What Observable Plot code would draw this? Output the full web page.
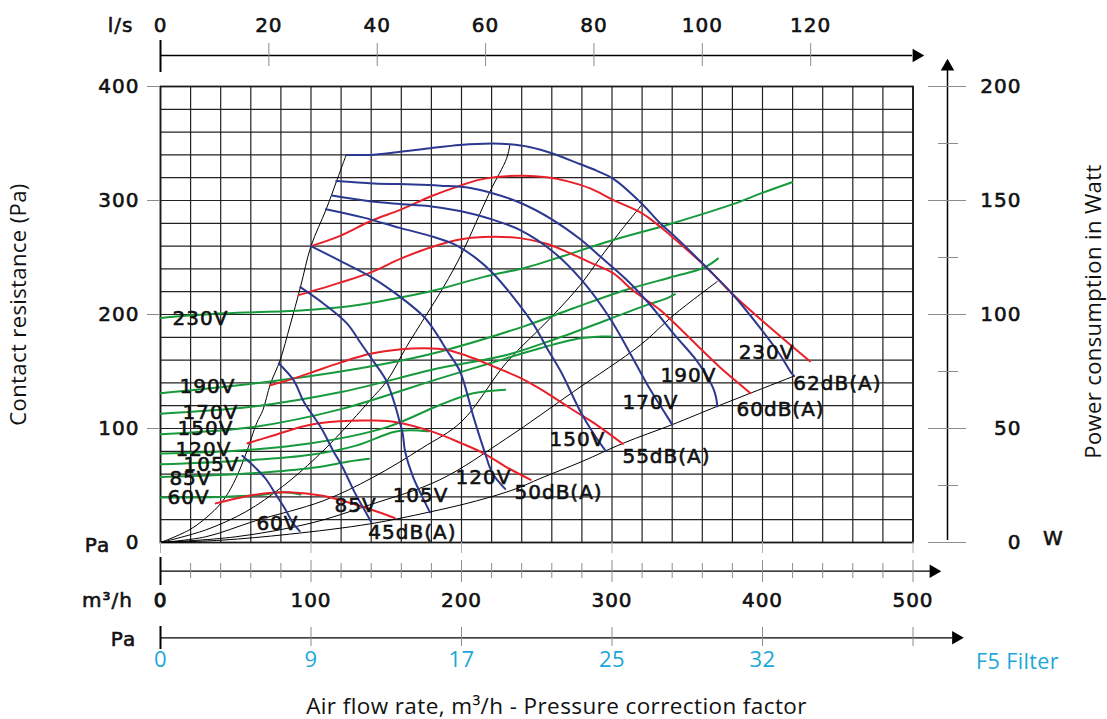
<!DOCTYPE html>
<html><head><meta charset="utf-8">
<script src="https://cdn.jsdelivr.net/npm/d3@7"></script>
<script src="https://cdn.jsdelivr.net/npm/@observablehq/plot@0.6"></script>
<style>
body{margin:0;background:#fff;}
</style></head><body><div id="chart"></div>
<script>
// ---------------- DATA (x = air flow m³/h, y = pressure Pa; power curves in Pa-equivalent = 2·W) -------------
const blue230 = [[123.4,340],[139,340],[157,342.3],[179,345.8],[199,348.7],[220,350],[232,349.3],[245,347],[260,341.5],[278.6,332],[290,326],[301,319],[320,297],[332,280],[343,267],[363,241],[380,218],[398,189],[411,166],[419,149],[421,146]];
const blue190 = [[116.8,317],[141.5,315],[168,314],[186,313],[203,311.6],[220,306.6],[239,298],[260,283.5],[279,266],[292,251],[310,230],[325,209],[341,183],[356,160],[363,146],[367,136],[369,128],[370,119.5]];
const blue170 = [[113.9,304.3],[139,299.4],[159,297],[179,295],[199,290.7],[220,283.5],[239,274],[260,256],[280,230],[298,198],[312,166],[325,135],[334,116],[340,103.4]];
const blue150 = [[109.9,292.4],[135,285],[159,276],[179,269],[195,261.7],[210,249],[221,236],[234,216],[248,191],[257,170],[266,150],[279,115],[288,95],[296,80]];
const blue120 = [[100,260],[119.4,247],[139.8,233],[159.7,215],[175,198],[183.5,183],[190,169],[199,150],[208,110],[215.5,79],[220.5,61],[229,47]];
const blue105 = [[92.9,224],[108.4,209.5],[124,192],[133,175],[142,158],[150,142],[155,124],[158.5,108],[161,95],[162.5,80],[168,57],[174,40],[179,26.5]];
const blue85  = [[78.6,157],[88.6,142],[95,124],[107,100],[114.5,81],[121,66],[129,44],[134.5,31],[140,18]];
const blue60  = [[54.4,76],[63.5,65],[70,55.7],[76.7,42],[83,29],[88,17],[92.5,10]];

const red62 = [[100,260],[119.4,269],[139.8,282],[159.7,292],[179.8,303.7],[199.7,313.3],[212.3,318.3],[223.3,320.6],[241,321.7],[256.5,320.3],[270,317],[285.5,310.6],[301,300.4],[320,288.8],[332,277],[341,267],[363,241],[380,218],[406,187.5],[431.5,159]];
const red60 = [[91.8,217],[119.4,228],[139.8,237],[159.7,249],[179.8,259],[199.7,266],[214.5,268],[238.8,267],[256.5,262],[270,255],[285,246],[301,236],[314,221],[332,204],[345,188],[358,171],[371.5,154],[384.7,139],[392,131]];
const red55 = [[73,138],[84,142],[100,149],[120,158],[139.5,165.5],[160,169.5],[175,170.4],[190,169],[208,161.6],[222,154],[238,145],[252,135],[272,118],[290,103],[307.3,86.4]];
const red50 = [[57.8,87],[74.4,93.7],[96.7,102.5],[118.9,106.3],[141,107],[156.7,105.5],[181,97],[200,87],[215,78],[230,66],[246,55]];
const red45 = [[36.7,34.3],[58.9,41],[72,43.5],[85.6,44],[107.8,41],[121,36.7],[139,29.4],[155.6,21.5]];

const green230 = [[0,197],[42,201],[93,203.5],[124,207],[159.5,215],[181.6,221],[214.8,233],[243.6,241.5],[265.7,250.5],[298.7,264.5],[338.7,279.4],[380.8,297],[398.5,306],[419.6,316]];
const green190 = [[0,131],[49,137.5],[100,146],[150,157],[185.6,167.4],[241,189.4],[274.4,205.5],[309,221.5],[341,233.3],[361,241],[370.4,249]];
const green170 = [[0,113],[60,119],[120,132],[185.6,153],[230,164.5],[263.3,179],[296.7,195.2],[323.3,208.4],[336.7,214.3],[341.8,217.8]];
const green150 = [[0,95],[60,101],[120,117],[185.6,144],[218.9,157.2],[252.2,170.4],[278.9,179.1],[292.2,180.6],[300,180.6]];
const green120 = [[0,78],[50,80.5],[100,87],[150,101],[185.6,120.6],[207.8,130.9],[229,134]];
const green105 = [[0,68.6],[50,71.5],[100,77],[130,85],[155,97],[166,98.5],[178,97.5]];
const green85  = [[0,57.5],[35,59],[71,61.7],[104,66],[125,71],[138.5,73.4]];
const green60  = [[0,39.5],[40,40],[65,41.5],[82,44],[93,42]];

const sysBoundary = [[0,0],[20,11.7],[35.6,28],[43.3,40],[50,56],[56.7,77.6],[64,105],[68,116],[73,139],[79.5,160],[86,190],[93,224],[100,260],[110,292],[117,317],[123.4,340]];
const sysC1 = [[0,0],[30,11],[56.7,27],[81,49],[103,74],[121,98],[139,124.4],[150.6,142],[163.6,172],[188,224],[200,253],[219,308],[230,337],[232.2,349.3]];
const sysC2 = [[0,0],[30,5],[63,19],[108,36.5],[141,57],[174,83],[200,106],[230,158],[259,196.7],[279,226],[292,249.4],[305.5,272.8],[320,296.6]];
const sysC3 = [[0,0],[50,5],[100,17],[139,33],[185.6,55],[230,91.4],[274.4,132.3],[318.9,173.3],[341.1,199.6],[370,229]];
const sysDB = [[0,0],[40,2],[85.6,7.3],[139,16.3],[178,26.5],[210,36.5],[236,47],[252,56],[280,71],[307.8,87.3],[340,103.4],[370,119.5],[421,146]];

const voltages = ["230V","190V","170V","150V","120V","105V","85V","60V"];
const dbLevels = ["62dB(A)","60dB(A)","55dB(A)","50dB(A)","45dB(A)"];
// label anchor points (data units)
const greenLabelPos = [[26.6,196.5],[31.2,136.8],[33.2,114],[29.9,100],[28.6,81.6],[33.9,68.4],[19.9,56.1],[18.6,39.5]];
const blueLabelPos  = [[402.7,166.7],[350.8,146.5],[325.6,122.8],[277.1,90.4],[214.6,57],[172.8,41.2],[129.6,32.5],[77.7,16.7]];
const dbLabelPos    = [[449.8,139.5],[412,116.7],[336.2,75.4],[264.5,43.9],[167.4,8.8]];

// axes values
const lsTicks = [0,20,40,60,80,100,120];
const LS_TO_M3H = 3.6;
const m3hMajor = [0,100,200,300,400,500];
const m3hMinor = [20,40,60,80,120,140,160,180,220,240,260,280,320,340,360,380,420,440,460,480];
const paTicks = [0,100,200,300,400];
const wattMajor = [0,50,100,150,200];
const wattMinor = [25,75,125,175];
const WATT_TO_PA = 2;
const filterLabels = ["0","9","17","25","32"];
const gridX = [0,20,40,60,80,100,120,140,160,180,200,220,240,260,280,300,320,340,360,380,400,420,440,460,480,500];
const gridY = [0,20,40,60,80,100,120,140,160,180,200,220,240,260,280,300,320,340,360,380,400];

// ---------------- LAYOUT ----------------
const W = 1107, H = 719, ML = 160, MR = 194.5, MT = 86, MB = 177;
const kx = 500 / (W - ML - MR), ky = 400 / (H - MT - MB);
const X = px => (px - ML) * kx;          // pixel -> data helpers for decorations
const Y = py => (H - MB - py) * ky;

const BLUE = "#2b3990", RED = "#e8202a", GREEN = "#179a3c", GREY = "#8c8c8c", CYAN = "#1ba7d8";
const LBL = "DejaVu Sans", TTL = "Open Sans";

const toRows = (groups) => groups.flatMap(([id, pts]) => pts.map(([x, y]) => ({id, x, y})));
const blueRows = toRows([["230",blue230],["190",blue190],["170",blue170],["150",blue150],["120",blue120],["105",blue105],["85",blue85],["60",blue60]]);
const redRows = toRows([["62",red62],["60",red60],["55",red55],["50",red50],["45",red45]]);
const greenRows = toRows([["230",green230],["190",green190],["170",green170],["150",green150],["120",green120],["105",green105],["85",green85],["60",green60]]);
const blackRows = toRows([["b",sysBoundary],["c1",sysC1],["c2",sysC2],["c3",sysC3],["db",sysDB]]);

const labelRows = (names, pos) => names.map((t, i) => ({t, x: pos[i][0], y: pos[i][1]}));
const txt = (o) => ({fontFamily: LBL, fontSize: 20, fill: "#111", stroke: "#111", strokeWidth: 0.6, ...o});
const ttl = (o) => ({fontFamily: TTL, fontSize: 22, fill: "#111", ...o});

const chart = Plot.plot({
  width: W, height: H,
  marginLeft: ML, marginRight: MR, marginTop: MT, marginBottom: MB,
  x: {domain: [0, 500], axis: null},
  y: {domain: [0, 400], axis: null},
  style: {background: "#fff", overflow: "visible"},
  marks: [
    Plot.gridX(gridX, {stroke: "#222", strokeOpacity: 1, strokeWidth: 1.2}),
    Plot.gridY(gridY, {stroke: "#222", strokeOpacity: 1, strokeWidth: 1.2}),
    Plot.frame({stroke: "#1a1a1a", strokeWidth: 1.8}),

    // black system curves
    Plot.line(blackRows, {x: "x", y: "y", z: "id", stroke: "#000", strokeWidth: 1, curve: "catmull-rom"}),
    // green power curves
    Plot.line(greenRows, {x: "x", y: "y", z: "id", stroke: GREEN, strokeWidth: 2, curve: "catmull-rom"}),
    // red noise curves
    Plot.line(redRows, {x: "x", y: "y", z: "id", stroke: RED, strokeWidth: 2, curve: "catmull-rom"}),
    // blue fan curves
    Plot.line(blueRows, {x: "x", y: "y", z: "id", stroke: BLUE, strokeWidth: 2, curve: "catmull-rom"}),

    // curve labels
    Plot.text(labelRows(voltages, greenLabelPos), txt({x: "x", y: "y", text: "t"})),
    Plot.text(labelRows(voltages, blueLabelPos), txt({x: "x", y: "y", text: "t"})),
    Plot.text(labelRows(dbLevels, dbLabelPos), txt({x: "x", y: "y", text: "t"})),

    // ---- top l/s axis
    Plot.ruleY([Y(55)], {x1: X(161), x2: X(912), stroke: "#000", strokeWidth: 1.3}),
    Plot.dot([0], {x: X(916), y: Y(55), symbol: "triangle", rotate: 90, r: 5, fill: "#000", stroke: null}),
    Plot.ruleX(lsTicks.slice(1), {x: d => d * LS_TO_M3H, y1: Y(66), y2: Y(43), stroke: GREY}),
    Plot.ruleX([0], {x: 0, y1: Y(72), y2: Y(40), stroke: "#000", strokeWidth: 2}),
    Plot.text(lsTicks, txt({x: d => d * LS_TO_M3H, y: Y(25), text: d => String(d)})),
    Plot.text(["l/s"], txt({x: X(120), y: Y(25), text: d => d})),

    // ---- left Pa axis
    Plot.ruleY(paTicks.slice(1), {y: d => d, x1: X(147), x2: 0, stroke: GREY}),
    Plot.text(paTicks, txt({x: X(139), y: d => d, text: d => String(d), textAnchor: "end"})),
    Plot.text(["Pa"], txt({x: X(97), y: Y(545), text: d => d})),
    Plot.text(["Contact resistance (Pa)"], ttl({x: X(18), y: Y(304), text: d => d, rotate: -90})),

    // ---- right W axis
    Plot.ruleX([X(947)], {y1: Y(540), y2: Y(68), stroke: "#000", strokeWidth: 1.5}),
    Plot.dot([0], {x: X(947), y: Y(66), symbol: "triangle", r: 5, fill: "#000", stroke: null}),
    Plot.ruleY(wattMajor, {y: d => d * WATT_TO_PA, x1: X(928), x2: X(966), stroke: GREY}),
    Plot.ruleY(wattMinor, {y: d => d * WATT_TO_PA, x1: X(938), x2: X(958), stroke: GREY}),
    Plot.text(wattMajor, txt({x: X(1021), y: d => d * WATT_TO_PA, text: d => String(d), textAnchor: "end"})),
    Plot.text(["W"], txt({x: X(1053), y: Y(538), text: d => d})),
    Plot.text(["Power consumption in Watt"], ttl({x: X(1093), y: Y(311), text: d => d, rotate: -90})),

    // ---- bottom m³/h axis
    Plot.ruleX(m3hMajor, {x: d => d, y1: Y(553), y2: 0, stroke: "#b0b0b0"}),
    Plot.ruleY([Y(570.7)], {x1: X(161), x2: X(930), stroke: "#000", strokeWidth: 1.3}),
    Plot.dot([0], {x: X(933), y: Y(570.7), symbol: "triangle", rotate: 90, r: 5, fill: "#000", stroke: null}),
    Plot.ruleX(m3hMinor, {x: d => d, y1: Y(578), y2: Y(563), stroke: GREY}),
    Plot.ruleX(m3hMajor.slice(1), {x: d => d, y1: Y(582), y2: Y(560), stroke: GREY}),
    Plot.ruleX([0], {x: 0, y1: Y(585), y2: Y(557), stroke: "#000", strokeWidth: 2}),
    Plot.text(m3hMajor, txt({x: d => d, y: Y(600), text: d => String(d), strokeWidth: d => d === 0 ? 1.0 : 0.6})),
    Plot.text(["m³/h"], txt({x: X(107), y: Y(600), text: d => d})),

    // ---- F5 filter pressure correction axis
    Plot.ruleY([Y(637.3)], {x1: X(160), x2: X(952), stroke: "#000", strokeWidth: 1.3}),
    Plot.dot([0], {x: X(955.5), y: Y(637.3), symbol: "triangle", rotate: 90, r: 5, fill: "#000", stroke: null}),
    Plot.ruleX(m3hMajor.slice(1), {x: d => d, y1: Y(646), y2: Y(627), stroke: GREY}),
    Plot.ruleX([0], {x: 0, y1: Y(649), y2: Y(626), stroke: "#000", strokeWidth: 2}),
    Plot.text(filterLabels, ttl({x: (d, i) => m3hMajor[i], y: Y(659), text: d => d, fill: CYAN})),
    Plot.text(["Pa"], txt({x: X(123), y: Y(639), text: d => d})),
    Plot.text(["F5 Filter"], ttl({x: X(1017), y: Y(662), text: d => d, fill: CYAN, fontSize: 21.5})),

    // ---- title
    Plot.text(["Air flow rate, m³/h - Pressure correction factor"], ttl({x: X(556), y: Y(706), text: d => d, fontSize: 22.5}))
  ]
});
chart.querySelectorAll('g[font-family="DejaVu Sans"]').forEach(g => g.setAttribute("letter-spacing", "1"));
chart.querySelectorAll('g[font-family="Open Sans"]').forEach(g => g.setAttribute("letter-spacing", "0.4"));
document.getElementById("chart").appendChild(chart);
</script></body></html>
